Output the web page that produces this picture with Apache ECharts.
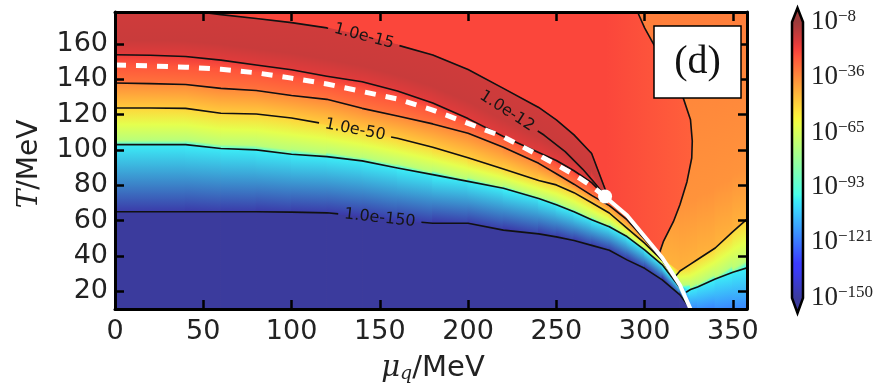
<!DOCTYPE html>
<html>
<head>
<meta charset="utf-8">
<script src="https://cdn.jsdelivr.net/npm/echarts@6/dist/echarts.min.js"></script>
<style>
  html, body { margin: 0; padding: 0; background: #fff; }
  #chart { width: 889px; height: 392px; }
</style>
</head>
<body>
<div id="chart"></div>
<script>
// ---------------------------------------------------------------------------
// Data: phase diagram in the (mu_q, T) plane, log10 of the plotted quantity
// ---------------------------------------------------------------------------

// Chemical-potential stations (MeV) at which the boundary and contours are sampled
const MU = [0, 20, 40, 60, 80, 100, 120, 140, 160, 180, 200, 220, 240, 250, 260, 270, 280, 290, 300, 310, 320, 326];

// Phase boundary T (MeV): crossover up to the critical point, first-order line after it
const T_BOUNDARY = [148, 147.5, 146.8, 145.6, 143.6, 140.6, 137.3, 133, 128.8, 122.5, 115, 107.4, 97, 91.6, 86, 79.5, 71.5, 63, 51, 39, 23.5, 10];
const CRITICAL_POINT = [277.6, 73.6];

// Contour lines on the hadronic side (T in MeV at each station, null = outside the frame)
const T_1E150 = [65, 65, 65, 65, 65, 64.8, 64.4, 62.5, 60.3, 58.5, 58.5, 54.6, 52.5, 50.8, 48.7, 46, 43.2, 37.8, 33, 26.5, 18, 10];
const T_1E100 = [103, 103, 103, 100.8, 100, 97.5, 96.2, 93.8, 89.8, 86, 82.2, 78.3, 72.5, 69, 65, 60.5, 56.5, 51, 43.5, 35, 22, 10];
const T_1E50  = [123.7, 123.7, 123.5, 120.7, 120.3, 118, 114.5, 110.6, 106.6, 101.5, 95.5, 89.2, 82.7, 80.2, 75.8, 70.1, 64.3, 55.8, 47.3, 37.5, 23, 10];
const T_1E30  = [137.8, 137.5, 137, 134.8, 133.6, 130.8, 128.6, 123.5, 119.2, 114.7, 109.4, 101.5, 92.4, 86.5, 80.6, 74.3, 68.5, 60.5, 49.5, 38, 23.2, 10];
const T_1E20  = [153.8, 153.5, 152.8, 150.8, 148, 145.3, 141.7, 138.5, 133.3, 126.5, 117.7, 107.6, 98.5, 94, 88.2, 81.5, 71.5, null, null, null, null, null];
const T_1E15  = [null, null, 179, 176.5, 174.3, 172, 169, 164.5, 159.3, 153.7, 145.5, 134.8, 124, 117, 108.5, 98, 71.5, null, null, null, null, null];

// Short 1e-12 contour ending at the critical point
const LINE_1E12 = [[208, 131], [224, 120.7], [243, 108.4], [255, 99], [265, 89], [272, 81], [278, 73.6]];

// Contour on the quark side, running down from the top edge to the first-order line
const LINE_Q_1E30 = [[296, 178], [300, 169], [305, 160], [314, 145], [322, 129], [326, 117], [327, 105], [326.7, 95.4], [324, 82], [320, 69], [316.3, 59.4], [310.6, 48.1], [308.5, 42]];

// Lower-right contours (quark side); null = merged into the first-order line
const MU_QUARK   = [310, 320, 326, 330, 340, 350, 358];
const T_Q_1E50   = [null, 31.5, 35.4, 38, 44.5, 53.8, 60.8];
const T_Q_1E100  = [null, null, 21, 22.5, 27, 30.8, 33.3];
const Q_1E50_START  = [317.5, 28.5];
const Q_1E100_START = [323.5, 19.5];

// log10 values across each band, as [fraction from lower edge, value]
const PROFILE_BELOW_1E150 = [[0, -150], [1, -150]];
const PROFILE_1E150_1E100 = [[0, -148], [1, -100]];
const PROFILE_1E100_1E50  = [[0, -96], [0.12, -72], [0.55, -62], [1, -51]];
const PROFILE_1E50_1E30   = [[0, -49], [1, -36]];
const PROFILE_1E30_BOUND  = [[0, -32], [1, -26]];
const PROFILE_BOUND_1E20  = [[0, -26], [1, -21]];
const PROFILE_1E20_1E15   = [[0, -19], [0.35, -15], [1, -16]];
const PROFILE_Q_FLOOR     = [[0, -118], [1, -100]];
const PROFILE_Q_1E100_1E50 = [[0, -96], [0.12, -72], [0.55, -62], [1, -51]];
const PROFILE_Q_ABOVE     = [[0, -44], [0.25, -38], [1, -34]];
const PROFILE_Q_RED       = [[0, -23], [0.85, -23], [1, -28]];
const LEVEL_BACKGROUND    = -34;

// Axis ticks and colour-bar ticks (log10)
const X_TICKS = [0, 50, 100, 150, 200, 250, 300, 350];
const Y_TICKS = [20, 40, 60, 80, 100, 120, 140, 160];
const LEVEL_TICKS = [-8, -36, -65, -93, -121, -150];
const LOG_MIN = -150, LOG_MAX = -8;
const MU_MIN = 0, MU_MAX = 358, T_MIN = 10, T_MAX = 178;

// ---------------------------------------------------------------------------
// Colour map (jet, drawn semi-transparent over white)
// ---------------------------------------------------------------------------
const JET_R = [[0, 0], [0.35, 0], [0.66, 1], [0.89, 1], [1, 0.5]];
const JET_G = [[0, 0], [0.125, 0], [0.375, 1], [0.64, 1], [0.91, 0], [1, 0]];
const JET_B = [[0, 0.5], [0.11, 1], [0.34, 1], [0.65, 0], [1, 0]];
const FILL_ALPHA = 0.77;

function lerpTable(tab, t) {
  for (let i = 1; i < tab.length; i++) {
    if (t <= tab[i][0]) {
      const [x0, y0] = tab[i - 1], [x1, y1] = tab[i];
      return y0 + (y1 - y0) * (t - x0) / (x1 - x0);
    }
  }
  return tab[tab.length - 1][1];
}
function levelColor(v) {
  const t = Math.min(1, Math.max(0, (v - LOG_MIN) / (LOG_MAX - LOG_MIN)));
  const c = [JET_R, JET_G, JET_B].map(tab =>
    Math.round(255 * (1 - FILL_ALPHA) + 255 * FILL_ALPHA * lerpTable(tab, t)));
  return 'rgb(' + c.join(',') + ')';
}

// ---------------------------------------------------------------------------
// Filled bands: quads between neighbouring curves, one per pair of stations
// ---------------------------------------------------------------------------
function quadsBetween(mus, lower, upper, profile) {
  const out = [];
  for (let i = 0; i < mus.length - 1; i++) {
    out.push({
      p: [[mus[i], lower[i]], [mus[i + 1], lower[i + 1]], [mus[i + 1], upper[i + 1]], [mus[i], upper[i]]],
      profile
    });
  }
  return out;
}
const clampTop = arr => arr.map(v => (v == null || v > T_MAX) ? T_MAX : v);

// hadronic side, below the boundary
const floorLeft = MU.map(() => T_MIN);
const LEFT_LOWER = [].concat(
  quadsBetween(MU, floorLeft, T_1E150, PROFILE_BELOW_1E150),
  quadsBetween(MU, T_1E150, T_1E100, PROFILE_1E150_1E100),
  quadsBetween(MU, T_1E100, T_1E50, PROFILE_1E100_1E50),
  quadsBetween(MU, T_1E50, T_1E30, PROFILE_1E50_1E30),
  quadsBetween(MU, T_1E30, T_BOUNDARY, PROFILE_1E30_BOUND)
);
// above the crossover, up to the critical point
const nUp = MU.indexOf(280) + 1;
const MU_UP = MU.slice(0, nUp);
const LEFT_UPPER = [].concat(
  quadsBetween(MU_UP, T_BOUNDARY.slice(0, nUp), T_1E20.slice(0, nUp), PROFILE_BOUND_1E20),
  quadsBetween(MU_UP, T_1E20.slice(0, nUp), clampTop(T_1E15.slice(0, nUp)), PROFILE_1E20_1E15)
);
// quark side, lower right
const qBottom = MU_QUARK.map(m => (MU.indexOf(m) >= 0 ? T_BOUNDARY[MU.indexOf(m)] : T_MIN));
const qLow = T_Q_1E100.map((v, i) => (v == null ? qBottom[i] : v));
const qMid = T_Q_1E50.map((v, i) => (v == null ? qLow[i] : v));
const qTop = MU_QUARK.map(() => T_MAX);
const RIGHT_QUADS = [].concat(
  quadsBetween(MU_QUARK, qBottom, qLow, PROFILE_Q_FLOOR),
  quadsBetween(MU_QUARK, qLow, qMid, PROFILE_Q_1E100_1E50),
  quadsBetween(MU_QUARK, qMid, qTop, PROFILE_Q_ABOVE)
);
// red region left of the quark-side contour and above the boundary
const RED_REGION = [[MU_MIN, T_MAX]]
  .concat(MU.filter(m => m <= 300).map(m => [m, T_BOUNDARY[MU.indexOf(m)]]))
  .concat(LINE_Q_1E30.slice().reverse());

function makeQuadRenderer(quads) {
  return function (params, api) {
    const q = quads[params.dataIndex];
    const [a, b, c, d] = q.p.map(p => api.coord(p));
    let ex = (b[0] - a[0]) + (c[0] - d[0]), ey = (b[1] - a[1]) + (c[1] - d[1]);
    const el = Math.hypot(ex, ey) || 1; ex /= el; ey /= el;
    const nx = ey, ny = -ex;
    const m0 = [(a[0] + b[0]) / 2, (a[1] + b[1]) / 2];
    const m1 = [(c[0] + d[0]) / 2, (c[1] + d[1]) / 2];
    let dist = (m1[0] - m0[0]) * nx + (m1[1] - m0[1]) * ny;
    if (Math.abs(dist) < 0.01) dist = 0.01;
    const grad = new echarts.graphic.LinearGradient(
      m0[0], m0[1], m0[0] + nx * dist, m0[1] + ny * dist,
      q.profile.map(([f, v]) => ({ offset: f, color: levelColor(v) })), true);
    return { type: 'polygon', shape: { points: [a, b, c, d] }, style: { fill: grad, stroke: grad, lineWidth: 1.2 } };
  };
}

// ---------------------------------------------------------------------------
// Contour lines, with inline labels cut into the line
// ---------------------------------------------------------------------------
const stationPts = arr => MU.map((m, i) => [m, arr[i]]).filter(p => p[1] != null);
const CONTOURS = [
  { pts: stationPts(T_1E150), label: '1.0e-150', at: 150 },
  { pts: stationPts(T_1E100) },
  { pts: stationPts(T_1E50), label: '1.0e-50', at: 136 },
  { pts: stationPts(T_1E30) },
  { pts: stationPts(T_1E20) },
  { pts: stationPts(T_1E15), label: '1.0e-15', at: 141 },
  { pts: LINE_1E12, label: '1.0e-12', at: 222 },
  { pts: LINE_Q_1E30 },
  { pts: [Q_1E50_START].concat(MU_QUARK.map((m, i) => [m, T_Q_1E50[i]]).filter(p => p[1] != null)) },
  { pts: [Q_1E100_START].concat(MU_QUARK.map((m, i) => [m, T_Q_1E100[i]]).filter(p => p[1] != null)) }
];
const LABEL_FONT_SIZE = 16;
const LABEL_FONT = LABEL_FONT_SIZE + 'px "DejaVu Sans"';
const measureCtx = document.createElement('canvas').getContext('2d');
measureCtx.font = LABEL_FONT;

function slicePolyline(px, cum, s0, s1) {
  const out = [];
  for (let i = 0; i < px.length - 1; i++) {
    const a = cum[i], b = cum[i + 1];
    if (b < s0 || a > s1) continue;
    const seg = b - a || 1;
    const f0 = Math.max(0, (s0 - a) / seg), f1 = Math.min(1, (s1 - a) / seg);
    const p0 = [px[i][0] + (px[i + 1][0] - px[i][0]) * f0, px[i][1] + (px[i + 1][1] - px[i][1]) * f0];
    const p1 = [px[i][0] + (px[i + 1][0] - px[i][0]) * f1, px[i][1] + (px[i + 1][1] - px[i][1]) * f1];
    if (!out.length) out.push(p0);
    out.push(p1);
  }
  return out;
}

function renderContour(params, api) {
  const c = CONTOURS[params.dataIndex];
  const px = c.pts.map(p => api.coord(p));
  const lineStyle = { stroke: '#111', lineWidth: 1.6, fill: null, lineJoin: 'round' };
  const cum = [0];
  for (let i = 1; i < px.length; i++) cum.push(cum[i - 1] + Math.hypot(px[i][0] - px[i - 1][0], px[i][1] - px[i - 1][1]));
  const total = cum[cum.length - 1];
  if (!c.label) {
    return { type: 'polyline', shape: { points: px }, style: lineStyle };
  }
  const ax = api.coord([c.at, T_MIN])[0];
  let s0 = 0, angle = 0, cx = px[0][0], cy = px[0][1];
  for (let i = 0; i < px.length - 1; i++) {
    const x0 = px[i][0], x1 = px[i + 1][0];
    if ((ax - x0) * (ax - x1) <= 0 && x1 !== x0) {
      const f = (ax - x0) / (x1 - x0);
      s0 = cum[i] + f * (cum[i + 1] - cum[i]);
      cx = ax; cy = px[i][1] + f * (px[i + 1][1] - px[i][1]);
      angle = Math.atan2(px[i + 1][1] - px[i][1], x1 - x0);
      break;
    }
  }
  const half = measureCtx.measureText(c.label).width / 2 + 6;
  const children = [];
  const before = slicePolyline(px, cum, 0, s0 - half);
  const after = slicePolyline(px, cum, s0 + half, total);
  if (before.length > 1) children.push({ type: 'polyline', shape: { points: before }, style: lineStyle });
  if (after.length > 1) children.push({ type: 'polyline', shape: { points: after }, style: lineStyle });
  children.push({
    type: 'text', x: cx, y: cy, rotation: -angle,
    style: { text: c.label, x: 0, y: 0, align: 'center', verticalAlign: 'middle',
             fontSize: LABEL_FONT_SIZE, fontFamily: 'DejaVu Sans', fill: '#151515' }
  });
  return { type: 'group', children };
}

// ---------------------------------------------------------------------------
// Phase boundary lines
// ---------------------------------------------------------------------------
const CROSSOVER = MU.map((m, i) => [m, T_BOUNDARY[i]]).filter(p => p[0] < CRITICAL_POINT[0]).concat([CRITICAL_POINT]);
const FIRST_ORDER = [CRITICAL_POINT].concat(MU.map((m, i) => [m, T_BOUNDARY[i]]).filter(p => p[0] > CRITICAL_POINT[0]));

// ---------------------------------------------------------------------------
// Colour bar (drawn as graphics beside the plot)
// ---------------------------------------------------------------------------
const CB_X = 792, CB_W = 11, CB_TOP = 22, CB_BOTTOM = 298, CB_TIP_TOP = 8, CB_TIP_BOTTOM = 313;
const cbY = v => CB_TOP + (LOG_MAX - v) / (LOG_MAX - LOG_MIN) * (CB_BOTTOM - CB_TOP);
const cbStops = [];
for (let k = 0; k <= 40; k++) {
  cbStops.push({ offset: k / 40, color: levelColor(LOG_MAX - k / 40 * (LOG_MAX - LOG_MIN)) });
}
const colorBar = [
  { type: 'rect', shape: { x: CB_X, y: CB_TOP, width: CB_W, height: CB_BOTTOM - CB_TOP },
    style: { fill: new echarts.graphic.LinearGradient(0, 0, 0, 1, cbStops) } },
  { type: 'polygon', shape: { points: [[CB_X, CB_TOP], [CB_X + CB_W / 2, CB_TIP_TOP], [CB_X + CB_W, CB_TOP]] },
    style: { fill: levelColor(LOG_MAX + 1) } },
  { type: 'polygon', shape: { points: [[CB_X, CB_BOTTOM], [CB_X + CB_W / 2, CB_TIP_BOTTOM], [CB_X + CB_W, CB_BOTTOM]] },
    style: { fill: levelColor(LOG_MIN - 1) } },
  { type: 'polygon', shape: { points: [[CB_X, CB_TOP], [CB_X + CB_W / 2, CB_TIP_TOP], [CB_X + CB_W, CB_TOP],
      [CB_X + CB_W, CB_BOTTOM], [CB_X + CB_W / 2, CB_TIP_BOTTOM], [CB_X, CB_BOTTOM]] },
    style: { fill: null, stroke: '#000', lineWidth: 2.5, lineJoin: 'miter' } }
].concat(LEVEL_TICKS.map(v => ({
  type: 'text', x: CB_X + CB_W + 8, y: cbY(v),
  style: {
    text: '{b|10}{s|\u2212' + Math.abs(v) + '}', align: 'left', verticalAlign: 'middle',
    rich: {
      b: { fontSize: 27, fontFamily: 'Liberation Serif', fill: '#222', verticalAlign: 'bottom' },
      s: { fontSize: 17, fontFamily: 'Liberation Serif', fill: '#222', verticalAlign: 'top' }
    }
  }
})));

// ---------------------------------------------------------------------------
// Chart
// ---------------------------------------------------------------------------
const chart = echarts.init(document.getElementById('chart'));

const axisCommon = {
  type: 'value', z: 20,
  axisLine: { show: true, onZero: false, lineStyle: { color: '#000', width: 3 } },
  splitLine: { show: false }
};
const tickStyle = { inside: true, length: 9, lineStyle: { color: '#000', width: 2.5 } };
const labelStyle = { color: '#222', fontSize: 27, fontFamily: 'DejaVu Sans' };

chart.setOption({
  animation: false,
  backgroundColor: '#fff',
  grid: { left: 115, right: 142, top: 12, bottom: 83, show: true, borderWidth: 0,
          backgroundColor: levelColor(LEVEL_BACKGROUND), outerBoundsMode: 'none' },
  xAxis: [
    Object.assign({}, axisCommon, { min: MU_MIN, max: MU_MAX, position: 'bottom',
      axisTick: Object.assign({ customValues: X_TICKS }, tickStyle),
      axisLabel: Object.assign({ customValues: X_TICKS, margin: 9 }, labelStyle) }),
    Object.assign({}, axisCommon, { min: MU_MIN, max: MU_MAX, position: 'top',
      axisTick: Object.assign({ customValues: X_TICKS }, tickStyle),
      axisLabel: { show: false } })
  ],
  yAxis: [
    Object.assign({}, axisCommon, { min: T_MIN, max: T_MAX, position: 'left',
      axisTick: Object.assign({ customValues: Y_TICKS }, tickStyle),
      axisLabel: Object.assign({ customValues: Y_TICKS, margin: 7 }, labelStyle) }),
    Object.assign({}, axisCommon, { min: T_MIN, max: T_MAX, position: 'right',
      axisTick: Object.assign({ customValues: Y_TICKS }, tickStyle),
      axisLabel: { show: false } })
  ],
  series: [
    { type: 'custom', name: 'quark side', z: 1, clip: true, silent: true,
      data: RIGHT_QUADS.map(q => q.p[0]), renderItem: makeQuadRenderer(RIGHT_QUADS) },
    { type: 'custom', name: 'red region', z: 2, clip: true, silent: true,
      data: [RED_REGION[0]],
      renderItem: function (params, api) {
        const pts = RED_REGION.map(p => api.coord(p));
        const x0 = api.coord([MU_MIN, T_MIN])[0], x1 = api.coord([327, T_MIN])[0];
        return { type: 'polygon', shape: { points: pts },
          style: { fill: new echarts.graphic.LinearGradient(x0, 0, x1, 0,
            PROFILE_Q_RED.map(([f, v]) => ({ offset: f, color: levelColor(v) })), true) } };
      } },
    { type: 'custom', name: 'hadron side upper', z: 3, clip: true, silent: true,
      data: LEFT_UPPER.map(q => q.p[0]), renderItem: makeQuadRenderer(LEFT_UPPER) },
    { type: 'custom', name: 'hadron side lower', z: 4, clip: true, silent: true,
      data: LEFT_LOWER.map(q => q.p[0]), renderItem: makeQuadRenderer(LEFT_LOWER) },
    { type: 'custom', name: 'contours', z: 5, clip: true, silent: true,
      data: CONTOURS.map(c => c.pts[0]), renderItem: renderContour },
    { type: 'line', name: 'crossover', z: 6, clip: true, silent: true, symbol: 'none',
      data: CROSSOVER, lineStyle: { color: '#fff', width: 5, type: [11, 10] } },
    { type: 'line', name: 'first order', z: 6, clip: true, silent: true, symbol: 'none',
      data: FIRST_ORDER, lineStyle: { color: '#fff', width: 4 } },
    { type: 'scatter', name: 'critical point', z: 7, silent: true, symbolSize: 14,
      data: [CRITICAL_POINT], itemStyle: { color: '#fff', opacity: 1 } }
  ],
  graphic: [
    { type: 'text', x: 433, y: 368, z: 50,
      style: { text: '{m|\u03bc}{q|q}{u|/MeV}', align: 'center', verticalAlign: 'middle',
        rich: {
          m: { fontSize: 29, fontFamily: 'DejaVu Serif', fontStyle: 'italic', fill: '#222' },
          q: { fontSize: 19, fontFamily: 'DejaVu Serif', fontStyle: 'italic', fill: '#222', verticalAlign: 'bottom', padding: [12, 0, 0, 0] },
          u: { fontSize: 29, fontFamily: 'DejaVu Sans', fill: '#222' }
        } } },
    { type: 'text', x: 30, y: 164, rotation: Math.PI / 2, z: 50,
      style: { text: '{t|T}{u|/MeV}', align: 'center', verticalAlign: 'middle',
        rich: {
          t: { fontSize: 28, fontFamily: 'DejaVu Serif', fontStyle: 'italic', fill: '#222' },
          u: { fontSize: 28, fontFamily: 'DejaVu Sans', fill: '#222' }
        } } },
    { type: 'rect', z: 60, shape: { x: 654, y: 26, width: 87, height: 72 },
      style: { fill: '#fff', stroke: '#000', lineWidth: 1.5 } },
    { type: 'text', z: 61, x: 697.5, y: 62,
      style: { text: '(d)', fontSize: 40, fontFamily: 'Liberation Serif', fill: '#111', align: 'center', verticalAlign: 'middle' } },
    { type: 'group', z: 50, children: colorBar }
  ]
});
</script>
</body>
</html>
